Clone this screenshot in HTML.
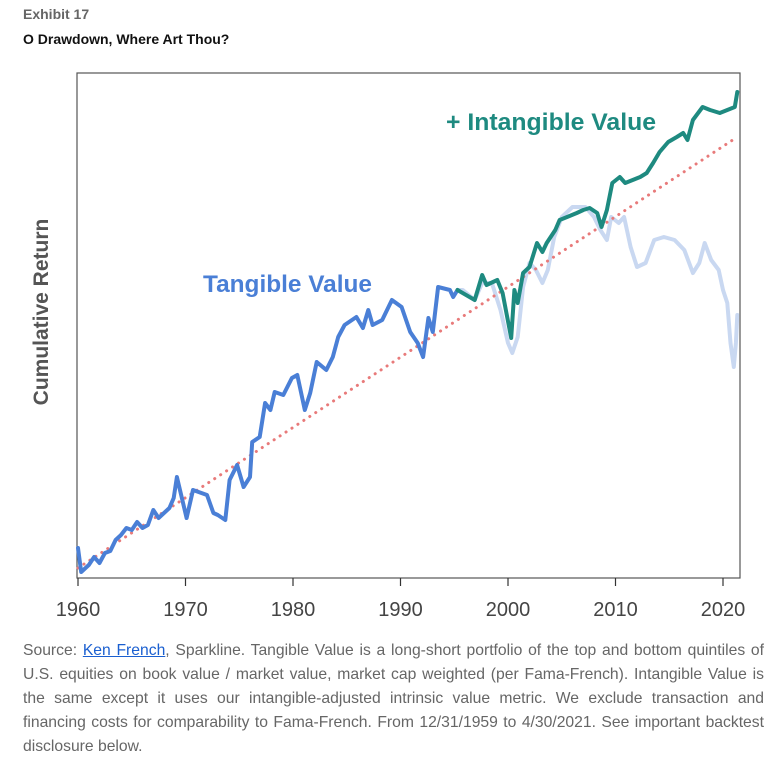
<!DOCTYPE html>
<html><head><meta charset="utf-8"><style>
body{margin:0;background:#fff;width:780px;height:767px;overflow:hidden;font-family:"Liberation Sans",sans-serif;}
.h1{position:absolute;left:23px;top:6px;font-size:14px;font-weight:bold;color:#666;}
.h2{position:absolute;left:23px;top:31px;font-size:14px;font-weight:bold;color:#111;}
.cap{position:absolute;left:23px;top:639px;width:741px;font-size:15.7px;line-height:24px;color:#666;text-align:justify;}
.cap a{color:#1a5fd0;text-decoration:underline;}
svg{position:absolute;left:0;top:0;}
</style></head><body>
<div class="h1">Exhibit 17</div>
<div class="h2">O Drawdown, Where Art Thou?</div>
<svg width="780" height="630">
<rect x="77" y="73" width="663" height="505" fill="none" stroke="#555" stroke-width="1.2"/>
<g id="xticks"></g>
<text transform="translate(48,312) rotate(-90)" text-anchor="middle" font-size="21" font-weight="bold" fill="#555">Cumulative Return</text>
<g id="series"></g>
<text x="203" y="292" font-size="24" font-weight="bold" fill="#4a7fd6" textLength="169" lengthAdjust="spacingAndGlyphs">Tangible Value</text>
<text x="446" y="130" font-size="24" font-weight="bold" fill="#1e8a80" textLength="210" lengthAdjust="spacingAndGlyphs">+ Intangible Value</text>
</svg>
<div class="cap">Source: <a>Ken French</a>, Sparkline. Tangible Value is a long-short portfolio of the top and bottom quintiles of U.S. equities on book value / market value, market cap weighted (per Fama-French). Intangible Value is the same except it uses our intangible-adjusted intrinsic value metric. We exclude transaction and financing costs for comparability to Fama-French. From 12/31/1959 to 4/30/2021. See important backtest disclosure below.</div>
<script>
const xTicks=[1960,1970,1980,1990,2000,2010,2020];
const tangYears=[1960,1960.3,1961,1961.5,1962,1962.5,1963,1963.5,1964,1964.5,1965,1965.5,1966,1966.5,1967,1967.5,1968,1968.5,1968.9,1969.2,1970.1,1970.7,1972,1972.6,1973,1973.7,1974.1,1974.8,1975.4,1976,1976.2,1976.9,1977.4,1977.9,1978.3,1979.1,1979.9,1980.4,1981.1,1981.6,1982.2,1983.1,1983.7,1984.2,1984.8,1985.9,1986.5,1987,1987.4,1988.3,1989.2,1990.1,1990.9,1991.6,1992.1,1992.6,1993,1993.5,1994.6,1994.9,1995.3];
const tangVals=[6,1.2,2.6,4.2,3,5,5.4,7.6,8.6,10,9.6,11.2,10,10.6,13.6,12,13,14,16,20.2,12,17.6,16.6,13,12.6,11.6,19.6,22.6,18.2,20.2,27.2,28.2,35,33.6,37.2,36.6,40,40.6,33.6,37,43.2,41.6,44.2,48.2,50.6,52.2,50,53.6,50.6,51.6,55.6,54.2,49.2,47,44.2,52,49.2,58.2,57.6,56.2,57.6];
const tangLateYears=[1995.3,1995.8,1996.9,1997.6,1998.5,1999.3,2000,2000.4,2000.9,2001.4,2002,2002.6,2003.2,2003.7,2004.3,2005,2006,2007.2,2008,2008.6,2009.2,2009.6,2010.3,2010.8,2011.4,2012,2012.8,2013.6,2014.5,2015.5,2016.4,2017.2,2017.8,2018.3,2018.9,2019.6,2020,2020.4,2020.7,2021,2021.2,2021.33];
const tangLateVals=[57.6,57.6,55.6,59,59,53.6,47,45,48.2,58.2,63,61.6,59,61.6,68.2,72.2,74.2,74.2,72.2,69.6,67.6,72.2,71,72.2,66.2,62.2,63,67.6,68.2,67.6,65.6,61,63,67,63.6,61.6,57.6,55,47,42.2,47,52.6];
const intYears=[1995.3,1996.9,1997.6,1998,1999,1999.5,2000.3,2000.6,2000.9,2001.4,2002,2002.7,2003.2,2003.6,2004.4,2004.8,2005.5,2006.4,2007,2007.6,2008.3,2008.7,2009.2,2009.7,2010.4,2010.9,2011.6,2012.3,2012.9,2013.5,2014.1,2014.9,2015.7,2016.3,2016.7,2017.2,2018.1,2018.8,2019.7,2020.4,2021.1,2021.33];
const intVals=[57.6,55.6,60.6,58.6,59.6,57,48,57.6,55,61,62.2,67,65.2,67,69.6,71.6,72.2,73,73.6,74,73,70.2,73.6,79,80.2,79,79.6,80.2,81,83,85.2,87.2,88.2,89,87.6,91.6,94.2,93.6,93,93.6,94.2,97.2];
const trendYears=[1960,2021.33];
const trendVals=[2,88.2];
const NS='http://www.w3.org/2000/svg';
const xs=y=>78+(y-1960)*10.75;
const ys=v=>578-v*5;
const tk=document.getElementById('xticks');
xTicks.forEach(t=>{
  const l=document.createElementNS(NS,'line');
  l.setAttribute('x1',xs(t));l.setAttribute('x2',xs(t));l.setAttribute('y1',578);l.setAttribute('y2',586);
  l.setAttribute('stroke','#333');l.setAttribute('stroke-width','1.2');
  
  
  tk.appendChild(l);
  const tx=document.createElementNS(NS,'text');
  tx.setAttribute('x',xs(t));tx.setAttribute('y',616);tx.setAttribute('text-anchor','middle');
  tx.setAttribute('font-size','20');tx.setAttribute('fill','#444');
  tx.textContent=t;
  
  
  tk.appendChild(tx);
});
const g=document.getElementById('series');
function line(yrs,vals,color,w,name,dash){
  const p=document.createElementNS(NS,'path');
  p.setAttribute('d',yrs.map((y,i)=>(i?'L':'M')+xs(y).toFixed(1)+','+ys(vals[i]).toFixed(1)).join(''));
  p.setAttribute('fill','none');p.setAttribute('stroke',color);p.setAttribute('stroke-width',w);
  p.setAttribute('stroke-linejoin','round');p.setAttribute('stroke-linecap','round');
  if(dash)p.setAttribute('stroke-dasharray',dash);
  
  
  g.appendChild(p);
}
line(tangLateYears,tangLateVals,'#c9d8f1',4,'tangible-value-line-faded');
line(trendYears,trendVals,'#e87a7a',3,'trend-line','0.1 7');
line(tangYears,tangVals,'#4a7fd6',4,'tangible-value-line');
line(intYears,intVals,'#1e8a80',4,'intangible-value-line');
</script>
</body></html>
